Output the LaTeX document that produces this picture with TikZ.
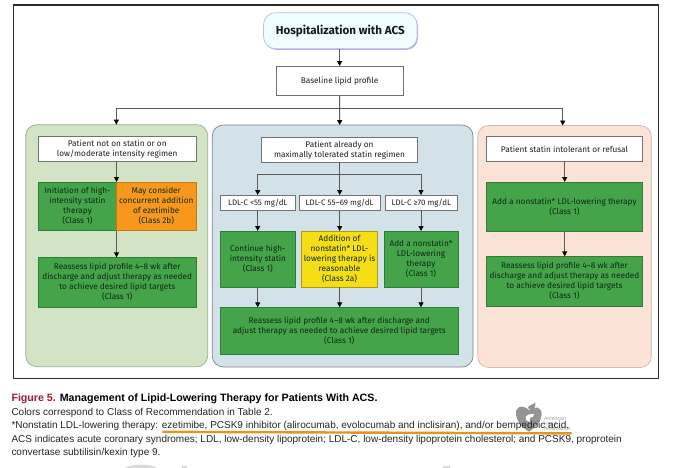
\documentclass[tikz,border=0pt]{standalone}
\usepackage{fontspec}
\setmainfont{Fira Sans}
\newfontfamily\capfont{Liberation Sans}
\usetikzlibrary{arrows.meta,shadows,calc}
\definecolor{frameC}{HTML}{2B2B2B}
\definecolor{lineC}{HTML}{5A5A5A}
\definecolor{greenC}{HTML}{45A349}
\definecolor{greenE}{HTML}{2F7D3A}
\definecolor{orangeC}{HTML}{F7981D}
\definecolor{yellowC}{HTML}{F5DE16}
\definecolor{panelG}{HTML}{D3E3C5}
\definecolor{panelB}{HTML}{D3E1E8}
\definecolor{panelP}{HTML}{FBE3D8}
\definecolor{inkC}{HTML}{0E2A16}
\definecolor{redC}{HTML}{A6192E}
\definecolor{markC}{HTML}{E8931F}
\tikzset{
  x=1pt,y=-1pt,
  every node/.style={inner sep=0pt,outer sep=0pt,anchor=north west,align=center,
    font=\fontsize{8.25}{10}\selectfont,text=black!88},
  panel/.style={draw=#1,line width=0.7pt,rounded corners=11pt},
  whitebox/.style={draw=black!55,fill=white,line width=0.7pt},
  ldlbox/.style={whitebox,font=\fontsize{7.95}{10}\selectfont},
  greenbox/.style={draw=greenE,fill=greenC,line width=0.7pt,text=inkC},
  orangebox/.style={draw=orangeC!80!black,fill=orangeC,line width=0.7pt,text=inkC},
  yellowbox/.style={draw=yellowC!70!black,fill=yellowC,line width=0.7pt,text=inkC},
  conn/.style={draw=lineC,line width=0.9pt,-{Triangle[length=5pt,width=5pt,color=black]}},
  plain/.style={draw=lineC,line width=0.9pt},
  captext/.style={font=\capfont\fontsize{10}{11}\selectfont,text=black!85,align=left,anchor=west},
}
\newcommand{\bx}[7]{\node[#1,minimum width=#4-#3,minimum height=#6-#5] (#2) at (#3,#5) {#7};}
\begin{document}
\begin{tikzpicture}
\useasboundingbox (0,0) rectangle (690,467);
\fill[white] (0,0) rectangle (690,467);
% frame
\draw[frameC,line width=1.2pt] (13.5,5) rectangle (658.7,378.7);
% title
\node[rounded corners=12pt,draw=black!25!blue!25!white,fill=blue!5!cyan!6!white,line width=0.7pt,
  drop shadow={shadow xshift=1pt,shadow yshift=-1.2pt,opacity=1,fill=black!45!blue!30!white},
  minimum width=153.5pt,minimum height=36pt,
  font=\bfseries\fontsize{11.6}{14}\selectfont,text=black!90] (title) at (263.5,12.7) {Hospitalization with ACS};
\bx{whitebox}{base}{276}{403.3}{66}{95.7}{Baseline lipid profile}
% panels
\bx{panel={black!25!panelG},fill=panelG}{lp}{25.7}{207.7}{124.7}{366.7}{}
\bx{panel={black!40!panelB},fill=panelB}{mp}{212.3}{473}{125}{367}{}
\bx{panel={black!18!panelP},fill=panelP}{rp}{477.7}{651.3}{125.5}{367.5}{}
% left column
\bx{whitebox}{lw}{38.5}{196}{136.3}{161.7}{Patient not on statin or on\\low/moderate intensity regimen}
\bx{greenbox}{la}{38.5}{116.5}{182}{230.7}{Initiation of high-\\intensity statin\\therapy\\(Class 1)}
\bx{orangebox}{lb}{116.5}{196}{182}{230.7}{May consider\\concurrent addition\\of ezetimibe\\(Class 2b)}
\bx{greenbox}{lr}{38.5}{196}{257.3}{307.3}{Reassess lipid profile 4--8 wk after\\discharge and adjust therapy as needed\\to achieve desired lipid targets\\(Class 1)}
% middle column
\bx{whitebox}{mw}{261.7}{417.3}{137.3}{162.3}{Patient already on\\maximally tolerated statin regimen}
\bx{ldlbox}{l1}{220.5}{295}{195}{210.7}{LDL-C <55 mg/dL}
\bx{ldlbox}{l2}{299.3}{380}{195}{210.7}{LDL-C 55--69 mg/dL}
\bx{ldlbox}{l3}{385}{457.7}{195}{210.7}{LDL-C ≥70 mg/dL}
\bx{greenbox}{t1}{220.7}{295}{231}{287.3}{Continue high-\\intensity statin\\(Class 1)}
\bx{yellowbox}{t2}{301.3}{377.7}{231}{287.3}{Addition of\\nonstatin* LDL-\\lowering therapy is\\reasonable\\(Class 2a)}
\bx{greenbox}{t3}{384}{458}{231}{287.3}{Add a nonstatin*\\LDL-lowering\\therapy\\(Class 1)}
\bx{greenbox}{mr}{220.5}{458}{307.3}{354.3}{Reassess lipid profile 4--8 wk after discharge and\\adjust therapy as needed to achieve desired lipid targets\\(Class 1)}
% right column
\bx{whitebox}{rw}{486.3}{642.7}{136.3}{161.7}{Patient statin intolerant or refusal}
\bx{greenbox}{ra}{486.3}{642.7}{182}{231}{Add a nonstatin* LDL-lowering therapy\\(Class 1)}
\bx{greenbox}{rr}{486.3}{642.7}{256.3}{306.3}{Reassess lipid profile 4--8 wk after\\discharge and adjust therapy as needed\\to achieve desired lipid targets\\(Class 1)}
% connector junctions
\coordinate (bus) at (339.7,108.5);
\coordinate (rtop) at (562.7,125.5);
\coordinate (ltop) at (116.3,124.7);
\coordinate (mtop) at (339.7,125);
\coordinate (mbus) at (339.7,174.3);
\coordinate (a1) at (257.7,195);
\coordinate (a3) at (421,195);
\coordinate (a2) at (339.7,195);
% connectors
\draw[conn] (title.south -| base.south) -- (base.north);
\draw[conn] (base.south) -- (mtop);
\draw[plain] (ltop |- bus) -- (rtop |- bus);
\draw[conn] (ltop |- bus) -- (ltop);
\draw[conn] (rtop |- bus) -- (rtop);
\draw[conn] (lw.south -| la.north east) -- (la.north east);
\draw[conn] (la.south east) -- (la.south east |- lr.north);
\draw[conn] (mw.south -| mbus) -- (a2);
\draw[plain] (mbus -| a1) -- (mbus -| a3);
\draw[conn] (mbus -| a1) -- (a1);
\draw[conn] (mbus -| a3) -- (a3);
\draw[conn] (l1.south -| a1) -- (t1.north -| a1);
\draw[conn] (l2.south -| a2) -- (t2.north -| a2);
\draw[conn] (l3.south -| a3) -- (t3.north -| a3);
\draw[conn] (t1.south -| a1) -- (mr.north -| a1);
\draw[conn] (t2.south -| a2) -- (mr.north -| a2);
\draw[conn] (t3.south -| a3) -- (mr.north -| a3);
\coordinate (rx) at (564.7,200);
\draw[conn] (rw.south -| rx) -- (ra.north -| rx);
\draw[conn] (ra.south -| rx) -- (rr.north -| rx);
% logo
\fill[black!42] (529,410) .. controls (522,404) and (515,406) .. (516,415)
  .. controls (517,422) and (523,428) .. (529,431.7)
  .. controls (535,428) and (541,422) .. (541.7,415)
  .. controls (542,407) and (535,405) .. (529,410) -- cycle;
\fill[white] (526,420) .. controls (524,414) and (531,414) .. (534,414) -- (533,417) .. controls (530,417) and (529,418) .. (530,422) -- cycle;
\fill[black!42] (528,408) .. controls (528,405) and (533,405) .. (535.5,402.5) .. controls (536,406) and (534,409) .. (531,410) -- cycle;
\node[font=\capfont\fontsize{5.2}{5}\selectfont,text=black!38,align=left,anchor=north west] (aha) at (544,416.5) {American\\Heart\\Association.};
% caption
\node[captext,font=\capfont\bfseries\fontsize{10.65}{11}\selectfont,text=black] (c1) at (11.5,399) {\textcolor{redC}{Figure 5.} Management of Lipid-Lowering Therapy for Patients With ACS.};
\node[captext] (c2) at (11.5,412.5) {Colors correspond to Class of Recommendation in Table 2.};
\node[captext] (c3) at (11.5,426) {*Nonstatin LDL-lowering therapy: ezetimibe, PCSK9 inhibitor (alirocumab, evolocumab and inclisiran), and/or bempedoic acid.};
\node[captext] (c4) at (11.5,439.5) {ACS indicates acute coronary syndromes; LDL, low-density lipoprotein; LDL-C, low-density lipoprotein cholesterol; and PCSK9, proprotein};
\node[captext] (c5) at (11.5,452.5) {convertase subtilisin/kexin type 9.};
\draw[markC,line width=2.4pt] (162.3,431.8) -- (571.7,433.4);
% faint watermark at the bottom edge
\fill[black!15] (125,468) .. controls (132,463.5) and (150,463.5) .. (157,468) -- cycle;
\fill[black!15] (182,465.5) rectangle (187,468);
\fill[black!15] (443,465.5) rectangle (450,468);
\end{tikzpicture}
\end{document}
